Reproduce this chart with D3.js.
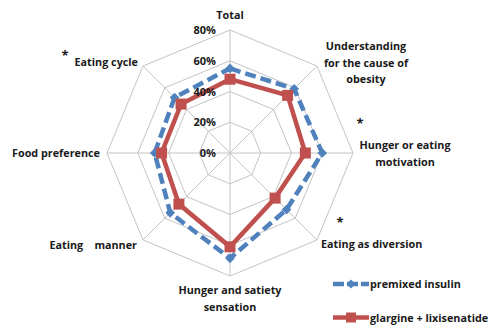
<!DOCTYPE html>
<html>
<head>
<meta charset="utf-8">
<script src="https://cdn.jsdelivr.net/npm/d3@7/dist/d3.min.js"></script>
<style>
  html, body { margin: 0; padding: 0; background: #fff; }
  svg { display: block; }
  text { font-family: "Open Sans", "Liberation Sans", sans-serif; font-weight: 700; fill: #1a1a1a; }
</style>
</head>
<body>
<svg id="chart" width="500" height="336"></svg>
<script>
// Radar axes, clockwise from the top
const axes = [
  "Total",
  "Understanding for the cause of obesity",
  "Hunger or eating motivation",
  "Eating as diversion",
  "Hunger and satiety sensation",
  "Eating    manner",
  "Food preference",
  "Eating cycle"
];
// Share of patients per domain
const premixed = [0.55, 0.59, 0.60, 0.52, 0.685, 0.55, 0.49, 0.51];
const glargineLixi = [0.48, 0.53, 0.49, 0.415, 0.61, 0.47, 0.445, 0.45];
const ticks = [0, 0.2, 0.4, 0.6, 0.8];
const tickLabels = ["0%", "20%", "40%", "60%", "80%"];
const seriesNames = ["premixed insulin", "glargine + lixisenatide"];

const blue = "#4f81bd", red = "#c0504d", grid = "#c4c4c4";
const cx = 230, cy = 153, R = 123;
const fs = 10.8;

const svg = d3.select("#chart");
const r = d3.scaleLinear().domain([0, 0.8]).range([0, R]);
const angle = d3.scalePoint().domain(d3.range(axes.length + 1)).range([0, 2 * Math.PI]);
const pt = (i, v) => [cx + r(v) * Math.sin(angle(i)), cy - r(v) * Math.cos(angle(i))];

const g = svg.append("g");

// Octagonal rings
ticks.filter(t => t > 0).forEach(t => {
  g.append("path")
    .attr("d", d3.line()(axes.map((_, i) => pt(i, t))) + "Z")
    .attr("fill", "none").attr("stroke", grid).attr("stroke-width", 1);
});
// Spokes
axes.forEach((_, i) => {
  const [x, y] = pt(i, 0.8);
  g.append("line").attr("x1", cx).attr("y1", cy).attr("x2", x).attr("y2", y)
    .attr("stroke", grid).attr("stroke-width", 1);
});

// Series lines
const radial = d3.lineRadial()
  .angle((d, i) => angle(i))
  .radius(d => r(d))
  .curve(d3.curveLinearClosed);

const plot = svg.append("g").attr("transform", `translate(${cx},${cy})`);
plot.append("path").datum(premixed).attr("d", radial)
  .attr("fill", "none").attr("stroke", blue).attr("stroke-width", 4.5)
  .attr("stroke-dasharray", "11,5");
plot.selectAll(".dia").data(premixed).enter().append("path")
  .attr("d", d3.symbol().type(d3.symbolDiamond2).size(60))
  .attr("transform", (d, i) => {
    const [x, y] = pt(i, d); return `translate(${x - cx},${y - cy})`;
  })
  .attr("fill", blue);

plot.append("path").datum(glargineLixi).attr("d", radial)
  .attr("fill", "none").attr("stroke", red).attr("stroke-width", 4.5);
plot.selectAll(".sq").data(glargineLixi).enter().append("rect")
  .attr("width", 11).attr("height", 11)
  .attr("x", (d, i) => pt(i, d)[0] - cx - 5.5)
  .attr("y", (d, i) => pt(i, d)[1] - cy - 5.5)
  .attr("fill", red);

// Tick labels along the top spoke
svg.append("g").selectAll("text").data(ticks).enter().append("text")
  .attr("x", cx - 14).attr("y", d => cy - r(d) + 4)
  .attr("text-anchor", "end").attr("font-size", 11)
  .text((d, i) => tickLabels[i]);

// Axis labels
const labelSpecs = [
  { lines: ["Total"], x: 230, y: 19, anchor: "middle" },
  { lines: ["Understanding", "for the cause of", "obesity"], x: 366, y: 50, anchor: "middle" },
  { lines: ["Hunger or eating", "motivation"], x: 405, y: 149, anchor: "middle" },
  { lines: ["Eating as diversion"], x: 321, y: 248, anchor: "start" },
  { lines: ["Hunger and satiety", "sensation"], x: 230, y: 294, anchor: "middle" },
  { lines: ["Eating    manner"], x: 137, y: 249, anchor: "end" },
  { lines: ["Food preference"], x: 100, y: 157, anchor: "end" },
  { lines: ["Eating cycle"], x: 138, y: 66, anchor: "end" }
];
labelSpecs.forEach(s => {
  const t = svg.append("text").attr("x", s.x).attr("y", s.y)
    .attr("text-anchor", s.anchor).attr("font-size", fs)
    .attr("xml:space", "preserve");
  s.lines.forEach((ln, j) => {
    t.append("tspan").attr("x", s.x).attr("dy", j === 0 ? 0 : 16.5).text(ln);
  });
});

// Significance markers
[[360, 128], [340, 227], [65, 60]].forEach(([x, y]) => {
  svg.append("text").attr("x", x).attr("y", y).attr("text-anchor", "middle")
    .attr("font-size", 13).text("*");
});

// Legend
const legend = svg.append("g");
[[blue, 284, true], [red, 317.5, false]].forEach(([c, y, dashed], k) => {
  legend.append("line").attr("x1", 333).attr("x2", 369).attr("y1", y).attr("y2", y)
    .attr("stroke", c).attr("stroke-width", 4.5)
    .attr("stroke-dasharray", dashed ? "11,3" : null);
  if (dashed) {
    legend.append("path").attr("d", d3.symbol().type(d3.symbolDiamond2).size(50))
      .attr("transform", `translate(351,${y})`).attr("fill", c);
  } else {
    legend.append("rect").attr("x", 346).attr("y", y - 5).attr("width", 10).attr("height", 10).attr("fill", c);
  }
  legend.append("text").attr("x", 370).attr("y", y + 4).attr("font-size", fs)
    .text(seriesNames[k]);
});
</script>
</body>
</html>
